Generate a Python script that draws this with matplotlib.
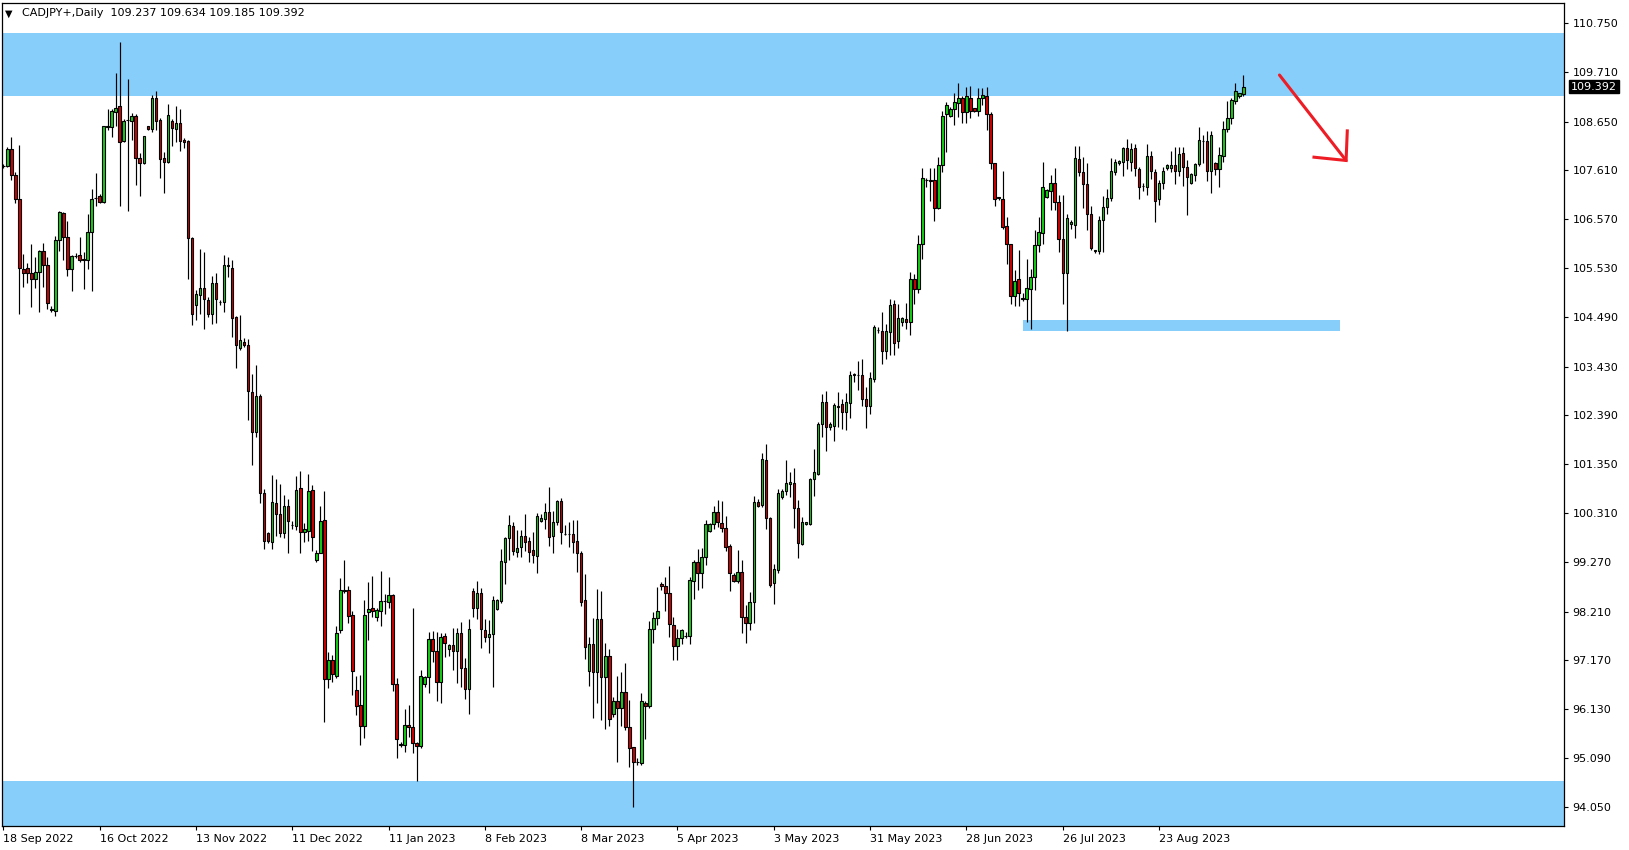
import matplotlib
matplotlib.use("Agg")
import matplotlib.pyplot as plt
import numpy as np

# CADJPY daily candles (index = bar number)
opens = [
    107.70, 107.71, 108.06, 107.51, 107.01, 105.51, 105.53, 105.42, 105.29, 105.44,
    105.89, 105.59, 104.64, 104.62, 106.13, 106.70, 106.18, 105.51, 105.79, 105.80,
    105.73, 105.69, 106.29, 107.02, 107.07, 106.93, 108.53, 108.53, 108.86, 108.97,
    108.24, 108.68, 108.67, 108.77, 107.87, 107.76, 108.55, 108.50, 109.15, 108.69,
    107.87, 107.79, 108.66, 108.50, 108.61, 108.26, 108.24, 106.16, 104.75, 104.95,
    105.10, 104.84, 104.56, 105.20, 104.80, 104.80, 105.58, 105.54, 104.48, 103.82,
    103.95, 103.89, 102.88, 102.04, 102.80, 100.73, 99.88, 99.70, 100.52, 100.28,
    99.89, 100.47, 100.06, 100.04, 100.84, 99.90, 99.93, 100.80, 99.32, 99.45,
    100.16, 96.77, 97.18, 96.83, 97.83, 98.66, 98.68, 98.14, 96.54, 96.22,
    95.78, 98.21, 98.28, 98.10, 98.23, 98.44, 98.42, 98.56, 96.66, 95.38,
    95.36, 95.80, 95.75, 95.41, 95.35, 96.66, 96.81, 97.62, 97.37, 96.72,
    97.69, 97.41, 97.51, 97.38, 97.75, 97.00, 96.57, 98.66, 98.28, 98.60,
    97.83, 97.68, 97.73, 98.26, 98.44, 99.27, 99.77, 100.03, 99.49, 99.58,
    99.82, 99.71, 99.52, 99.40, 100.14, 100.18, 100.33, 99.83, 100.11, 100.57,
    99.86, 99.86, 99.86, 99.71, 99.47, 98.46, 96.95, 97.52, 96.93, 98.05,
    96.82, 97.26, 96.04, 96.30, 96.15, 96.50, 95.75, 95.32, 95.01, 94.98,
    96.27, 96.20, 97.85, 98.07, 98.80, 98.76, 98.60, 97.93, 97.48, 97.64,
    97.69, 97.69, 98.87, 99.26, 99.03, 99.37, 99.93, 100.07, 100.33, 100.09,
    100.00, 99.61, 98.99, 98.87, 99.05, 98.10, 97.97, 98.41, 100.55, 100.48,
    101.45, 100.20, 98.81, 99.10, 100.66, 100.77, 100.92, 100.96, 100.41, 99.65,
    100.08, 100.08, 101.03, 101.14, 102.20, 102.68, 102.14, 102.17, 102.59, 102.63,
    102.47, 102.65, 103.26, 103.25, 103.25, 102.73, 102.60, 103.17, 104.21, 104.19,
    103.77, 104.17, 104.76, 103.98, 104.39, 104.44, 104.39, 105.29, 105.08, 106.05,
    107.40, 107.39, 107.40, 106.80, 107.72, 108.80, 108.77, 108.91, 109.05, 109.14,
    108.86, 109.16, 108.93, 108.88, 109.14, 109.19, 108.82, 107.76, 107.03, 106.99,
    106.42, 106.04, 104.94, 105.29, 104.88, 104.88, 105.08, 105.33, 106.03, 106.27,
    107.05, 107.18, 107.33, 106.93, 106.14, 105.42, 106.46, 106.45, 107.85, 107.57,
    107.31, 106.69, 105.90, 105.90, 106.55, 106.82, 107.03, 107.58, 107.76, 107.79,
    108.08, 107.79, 108.08, 107.63, 107.28, 107.26, 107.92, 107.58, 106.99, 107.35,
    107.65, 107.65, 107.72, 107.60, 107.97, 107.69, 107.33, 107.50, 107.74, 108.24,
    108.23, 107.60, 107.77, 107.63, 107.92, 108.48, 108.73, 109.09, 109.20, 109.237,
]
highs = [
    107.74, 108.11, 108.31, 107.58, 108.15, 105.83, 105.63, 106.04, 105.77, 105.91,
    106.06, 105.77, 104.72, 106.21, 106.74, 106.73, 106.53, 105.80, 105.84, 106.20,
    105.86, 106.69, 107.21, 107.55, 107.11, 108.56, 108.91, 108.91, 109.68, 110.34,
    108.70, 109.56, 108.84, 108.82, 107.97, 108.34, 108.56, 109.21, 109.30, 108.72,
    108.01, 109.02, 108.70, 108.98, 108.91, 108.29, 108.26, 106.18, 105.06, 105.93,
    105.86, 104.92, 105.36, 105.43, 104.85, 105.81, 105.76, 105.71, 104.51, 104.53,
    104.03, 104.01, 103.27, 103.46, 102.85, 100.82, 99.91, 101.12, 101.04, 100.93,
    100.69, 100.62, 100.15, 101.09, 101.20, 100.10, 101.14, 100.91, 99.52, 100.46,
    100.77, 97.36, 97.29, 97.90, 98.92, 99.30, 98.76, 98.22, 96.84, 96.86,
    98.46, 98.84, 98.97, 98.29, 99.08, 98.58, 98.95, 98.58, 96.79, 95.44,
    96.14, 96.22, 98.28, 95.44, 96.97, 96.84, 97.77, 97.80, 97.77, 97.75,
    97.75, 97.53, 97.87, 97.87, 97.98, 97.22, 98.05, 98.72, 98.86, 98.71,
    98.05, 98.03, 98.54, 98.47, 99.54, 99.81, 100.27, 100.13, 99.95, 99.95,
    100.29, 99.79, 99.91, 100.32, 100.30, 100.53, 100.87, 100.35, 100.59, 100.64,
    100.06, 100.11, 100.16, 100.16, 99.50, 99.01, 97.68, 98.08, 98.69, 98.64,
    97.55, 97.41, 96.40, 96.85, 96.93, 97.12, 96.33, 95.33, 95.09, 96.47,
    96.31, 98.01, 98.21, 98.73, 98.85, 98.95, 99.18, 98.09, 97.85, 97.85,
    97.78, 98.94, 99.30, 99.54, 99.56, 100.16, 100.10, 100.47, 100.59, 100.57,
    100.25, 99.66, 99.04, 99.52, 99.31, 98.35, 98.62, 100.67, 100.62, 101.58,
    101.79, 100.23, 99.22, 100.82, 100.82, 101.43, 101.18, 101.26, 100.59, 100.23,
    100.13, 101.05, 101.67, 102.24, 102.84, 102.91, 102.24, 102.65, 102.88, 102.75,
    102.86, 103.34, 103.29, 103.55, 103.59, 103.00, 103.32, 104.32, 104.27, 104.59,
    104.34, 104.87, 104.85, 104.76, 104.48, 104.78, 105.45, 105.40, 106.23, 107.65,
    107.44, 107.65, 107.67, 107.89, 108.88, 109.07, 108.95, 109.25, 109.48, 109.19,
    109.38, 109.41, 108.94, 109.36, 109.36, 109.39, 108.86, 107.77, 107.05, 107.60,
    106.62, 106.05, 105.49, 105.91, 104.99, 105.72, 105.51, 106.34, 106.61, 107.79,
    107.21, 107.52, 107.65, 107.08, 107.08, 106.68, 106.55, 108.13, 108.13, 107.89,
    107.76, 106.86, 105.91, 106.64, 107.07, 107.21, 107.88, 107.85, 107.83, 108.11,
    108.27, 108.20, 108.18, 107.69, 107.33, 108.18, 108.02, 107.63, 107.40, 107.69,
    107.75, 108.03, 108.10, 108.10, 108.10, 107.82, 107.56, 107.77, 108.54, 108.36,
    108.45, 108.45, 107.79, 108.10, 108.66, 109.09, 109.16, 109.48, 109.26, 109.634,
]
lows = [
    107.66, 107.69, 107.40, 106.91, 104.56, 105.13, 105.20, 104.69, 105.10, 104.60,
    105.13, 104.66, 104.60, 104.51, 105.90, 105.69, 105.35, 105.03, 105.74, 105.65,
    105.09, 105.50, 105.03, 106.84, 106.92, 106.91, 108.47, 108.33, 108.56, 106.84,
    108.22, 106.74, 108.26, 107.30, 107.07, 107.75, 108.47, 108.43, 108.47, 107.45,
    107.13, 107.77, 108.13, 108.22, 108.03, 108.08, 105.29, 104.32, 104.42, 104.55,
    104.22, 104.48, 104.34, 104.35, 104.74, 104.59, 105.33, 104.07, 103.41, 103.78,
    103.84, 102.29, 101.33, 101.94, 100.53, 99.55, 99.68, 99.55, 99.82, 99.81,
    99.77, 99.45, 99.98, 99.96, 99.45, 99.70, 99.72, 99.51, 99.27, 99.45,
    95.85, 96.59, 96.72, 96.80, 97.76, 98.61, 97.96, 96.43, 96.01, 95.38,
    95.51, 97.61, 98.09, 98.02, 97.91, 98.17, 98.28, 96.53, 95.09, 95.33,
    95.23, 95.55, 95.19, 94.61, 95.30, 96.61, 96.48, 97.14, 96.31, 96.27,
    97.24, 97.26, 96.97, 96.70, 96.61, 96.36, 96.03, 98.10, 98.05, 97.44,
    97.56, 97.34, 96.61, 98.24, 98.39, 98.80, 99.30, 99.42, 99.38, 99.38,
    99.51, 99.27, 99.24, 99.03, 100.13, 99.97, 99.61, 99.47, 100.06, 99.66,
    99.84, 99.58, 99.47, 99.06, 98.34, 97.21, 96.63, 95.94, 96.26, 95.90,
    95.72, 95.77, 95.97, 95.01, 95.77, 95.69, 94.91, 94.06, 94.94, 94.94,
    95.49, 96.15, 97.55, 97.93, 98.67, 98.23, 97.68, 97.18, 97.18, 97.53,
    97.64, 97.53, 98.47, 98.67, 98.71, 99.20, 99.91, 99.98, 100.02, 99.91,
    99.51, 98.66, 98.85, 98.83, 97.75, 97.55, 97.81, 97.97, 100.45, 100.45,
    99.97, 98.74, 98.37, 99.04, 100.62, 100.69, 100.66, 100.00, 99.36, 99.62,
    100.06, 100.06, 100.67, 101.12, 101.92, 101.64, 102.09, 101.85, 102.15, 102.11,
    102.09, 102.34, 103.11, 102.93, 102.60, 102.13, 102.41, 103.11, 104.14, 103.49,
    103.59, 103.68, 103.68, 103.83, 104.29, 104.24, 104.10, 104.76, 105.00, 105.72,
    107.26, 106.96, 106.54, 106.78, 107.58, 108.00, 108.75, 108.58, 108.75, 108.61,
    108.62, 108.72, 108.86, 108.77, 109.00, 108.47, 107.64, 106.85, 106.98, 106.36,
    105.62, 104.76, 104.73, 104.71, 104.83, 104.37, 104.24, 105.06, 105.86, 106.05,
    107.03, 106.77, 106.77, 105.86, 104.76, 104.19, 106.37, 106.16, 107.49, 106.81,
    106.34, 105.91, 105.84, 105.82, 105.86, 106.68, 106.96, 107.51, 107.72, 107.49,
    107.64, 107.60, 107.49, 106.99, 107.18, 107.08, 107.43, 106.52, 106.87, 107.21,
    107.62, 107.58, 107.32, 107.49, 107.28, 106.66, 107.32, 107.39, 107.70, 107.76,
    107.39, 107.13, 107.51, 107.26, 107.79, 108.43, 108.59, 109.02, 109.16, 109.185,
]
closes = [
    107.71, 108.06, 107.52, 107.01, 105.52, 105.42, 105.42, 105.29, 105.44, 105.90,
    105.59, 104.78, 104.65, 106.13, 106.72, 106.18, 105.51, 105.78, 105.79, 105.70,
    105.69, 106.29, 107.01, 107.03, 106.94, 108.55, 108.55, 108.87, 108.93, 108.22,
    108.67, 108.68, 108.77, 107.88, 107.77, 108.34, 108.50, 109.14, 108.67, 107.86,
    107.79, 108.78, 108.52, 108.61, 108.24, 108.22, 106.16, 104.55, 104.97, 105.11,
    104.86, 104.56, 105.20, 104.88, 104.80, 105.59, 105.58, 104.47, 103.88, 104.00,
    103.90, 102.90, 102.04, 102.80, 100.73, 99.72, 99.72, 100.55, 100.28, 99.89,
    100.47, 100.15, 100.06, 100.80, 99.91, 99.97, 100.78, 99.81, 99.45, 100.14,
    96.77, 97.18, 96.88, 97.75, 98.67, 98.66, 98.12, 96.95, 96.21, 95.78,
    98.14, 98.27, 98.23, 98.24, 98.44, 98.44, 98.56, 96.68, 95.49, 95.38,
    95.80, 95.75, 95.41, 95.35, 96.83, 96.81, 97.62, 97.38, 96.72, 97.68,
    97.55, 97.51, 97.38, 97.75, 97.00, 96.57, 97.85, 98.28, 98.60, 97.85,
    97.68, 97.73, 98.45, 98.46, 99.29, 99.77, 100.05, 99.51, 99.56, 99.82,
    99.70, 99.49, 99.42, 100.25, 100.20, 100.33, 99.81, 100.11, 100.57, 99.91,
    99.86, 99.86, 99.70, 99.47, 98.42, 97.46, 97.52, 96.93, 98.05, 96.82,
    97.26, 95.92, 96.30, 96.15, 96.50, 95.75, 95.31, 95.01, 95.01, 96.31,
    96.20, 97.85, 98.07, 98.22, 98.76, 98.60, 97.94, 97.48, 97.64, 97.82,
    97.69, 98.88, 99.26, 99.03, 99.37, 100.07, 100.07, 100.34, 100.11, 100.00,
    99.58, 99.03, 98.87, 99.05, 98.10, 97.97, 98.41, 100.55, 100.47, 101.47,
    100.20, 98.78, 99.11, 100.73, 100.78, 100.94, 100.98, 100.42, 99.68, 100.11,
    100.11, 101.03, 101.18, 102.20, 102.67, 102.14, 102.21, 102.61, 102.56, 102.47,
    102.67, 103.25, 103.27, 103.25, 102.75, 102.60, 103.18, 104.27, 104.21, 103.77,
    104.19, 104.74, 103.94, 104.46, 104.46, 104.39, 105.29, 105.08, 106.05, 107.44,
    107.40, 107.39, 106.80, 107.72, 108.77, 109.00, 108.91, 109.06, 109.14, 108.86,
    109.19, 108.88, 108.88, 109.14, 109.21, 108.82, 107.76, 107.01, 107.03, 106.41,
    106.04, 104.94, 105.25, 105.00, 104.88, 105.10, 105.33, 106.02, 106.30, 107.25,
    107.19, 107.35, 106.94, 106.14, 105.42, 106.59, 106.50, 107.87, 107.58, 107.31,
    106.69, 105.95, 105.90, 106.55, 106.82, 107.03, 107.60, 107.78, 107.81, 108.08,
    107.82, 108.06, 107.67, 107.26, 107.28, 107.92, 107.60, 106.96, 107.33, 107.60,
    107.72, 107.72, 107.60, 107.95, 107.69, 107.46, 107.53, 107.74, 108.26, 108.24,
    107.60, 108.36, 107.63, 107.94, 108.49, 108.72, 109.11, 109.29, 109.25, 109.392,
]

date_ticks = [0, 24, 48, 72, 96, 120, 144, 168, 192, 216, 240, 264, 288]
date_labels = ["18 Sep 2022", "16 Oct 2022", "13 Nov 2022", "11 Dec 2022",
               "11 Jan 2023", "8 Feb 2023", "8 Mar 2023", "5 Apr 2023",
               "3 May 2023", "31 May 2023", "28 Jun 2023", "26 Jul 2023",
               "23 Aug 2023"]
price_ticks = [110.750, 109.710, 108.650, 107.610, 106.570, 105.530, 104.490,
               103.430, 102.390, 101.350, 100.310, 99.270, 98.210, 97.170,
               96.130, 95.090, 94.050]

# zones drawn on the chart
resistance_zone = (109.19, 110.535)
support_zone_top = 94.61
small_zone_x = (254, 333)
small_zone_y = (104.19, 104.42)
# hand drawn arrow: shaft start, tip, and the two head ends (bar index, price)
arrow_start = (318.0, 109.64)
arrow_tip = (334.6, 107.82)
arrow_head_a = (326.6, 107.89)
arrow_head_b = (334.9, 108.45)

last_price = 109.392
title = "CADJPY+,Daily  109.237 109.634 109.185 109.392"

bull = "#14D214"
bear = "#D00000"
zone = "#87CEFA"

fig = plt.figure(figsize=(16.29, 8.5), dpi=100)
ax = fig.add_axes([2 / 1629, 24 / 850, 1562 / 1629, 823 / 850])

ax.axhspan(*resistance_zone, color=zone, lw=0, zorder=1)
ax.axhspan(90, support_zone_top, color=zone, lw=0, zorder=1)
ax.fill_between(small_zone_x, small_zone_y[0], small_zone_y[1], color=zone, lw=0, zorder=1)

x = np.arange(len(closes))
o = np.array(opens)
c = np.array(closes)
colors = np.where(c >= o, bull, bear)
ax.vlines(x, lows, highs, color="black", linewidth=0.85, zorder=2)
ax.bar(x, np.maximum(np.abs(c - o), 0.004), bottom=np.minimum(o, c), width=0.62,
       color=colors, edgecolor="black", linewidth=0.8, zorder=3)

# red arrow
ax.plot([arrow_start[0], arrow_tip[0]], [arrow_start[1], arrow_tip[1]],
        color="#EE1C25", lw=2.2, solid_capstyle="round", zorder=4)
ax.plot([arrow_head_a[0], arrow_tip[0], arrow_head_b[0]],
        [arrow_head_a[1], arrow_tip[1], arrow_head_b[1]],
        color="#EE1C25", lw=2.2, solid_joinstyle="miter", zorder=4)

ax.set_xlim(-0.32, 388.9)
ax.set_ylim(93.645, 111.174)

ax.yaxis.tick_right()
ax.set_yticks(price_ticks)
ax.set_yticklabels([f"{p:.3f}" for p in price_ticks])
ax.set_xticks(date_ticks)
ax.set_xticklabels(date_labels, ha="left")
ax.tick_params(axis="y", direction="out", length=3, width=0.8, pad=3, labelsize=8)
ax.tick_params(axis="x", direction="out", length=3, width=0.8, pad=3, labelsize=8)
for s in ax.spines.values():
    s.set_linewidth(0.9)

ax.text(1.0045, last_price, f"{last_price:.3f}", transform=ax.get_yaxis_transform(),
        color="white", fontsize=8, va="center", ha="left",
        bbox=dict(boxstyle="square,pad=0.15", fc="black", ec="black"))

fig.text(5 / 1629, 1 - 13.3 / 850, "\u25bc", fontsize=7, va="center", ha="left")
fig.text(22 / 1629, 1 - 13.3 / 850, title, fontsize=8, va="center", ha="left")

fig.savefig("out.png", dpi=100)
